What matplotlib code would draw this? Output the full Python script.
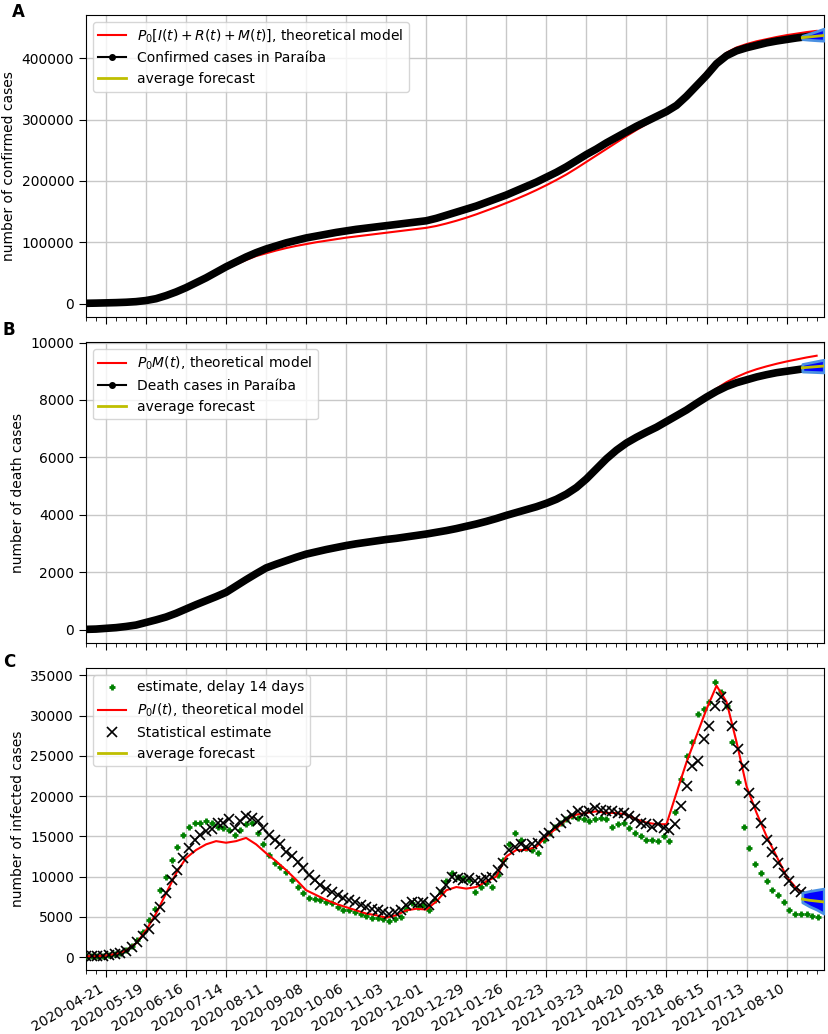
import matplotlib
matplotlib.use('Agg')
import matplotlib.pyplot as plt
import matplotlib.dates as mdates
from matplotlib.lines import Line2D
import numpy as np
import pandas as pd

# weekly readings, first week 2020-04-07
confirmed = [500, 800, 1200, 1600, 2200, 3200, 5000, 8000, 13000, 19000,
             26000, 34000, 42000, 51000, 60000, 68000, 76000, 83000, 89000, 94000,
             99000, 103000, 107000, 110000, 113000, 116000, 118500, 121000, 123000, 125000,
             127000, 129000, 131000, 133000, 135000, 139000, 144000, 149000, 154000, 159000,
             165000, 171000, 177000, 184000, 191000, 198000, 206000, 214000, 223000, 233000,
             243000, 252000, 262000, 271000, 280000, 289000, 297000, 305000, 313000, 323000,
             338000, 355000, 372000, 391000, 404000, 412000, 417000, 421000, 425000, 428000,
             430500, 433000, 435000, 437000]
model_confirmed = [500, 800, 1200, 1700, 2400, 3500, 5500, 8500, 13500, 19500,
                   26000, 33500, 41000, 49000, 56500, 64000, 71000, 77500, 82000, 86500,
                   90500, 94000, 97000, 100000, 102500, 105000, 107500, 109500, 111500, 113500,
                   115500, 117500, 119500, 121500, 123500, 126500, 130500, 135000, 140000, 145500,
                   151500, 157500, 164000, 170500, 177500, 185000, 193000, 201500, 210500, 220500,
                   231000, 241500, 252000, 262500, 273000, 283000, 292500, 301500, 311000, 322500,
                   339000, 358000, 378000, 396000, 409000, 417500, 423000, 427500, 431000, 434500,
                   437500, 440000, 442500, 444500]

deaths = [10, 20, 45, 70, 110, 160, 250, 340, 440, 570,
          720, 870, 1010, 1150, 1300, 1520, 1740, 1950, 2150, 2280,
          2400, 2520, 2630, 2710, 2790, 2860, 2930, 2990, 3040, 3090,
          3140, 3180, 3230, 3280, 3330, 3390, 3450, 3520, 3600, 3680,
          3770, 3870, 3980, 4080, 4180, 4280, 4400, 4540, 4720, 4950,
          5250, 5600, 5950, 6250, 6500, 6700, 6880, 7050, 7250, 7450,
          7650, 7880, 8100, 8300, 8470, 8600, 8700, 8800, 8880, 8950,
          9000, 9050, 9100, 9140]
model_deaths = [10, 20, 45, 75, 120, 175, 270, 370, 480, 610,
                760, 900, 1040, 1170, 1310, 1520, 1730, 1930, 2120, 2260,
                2380, 2500, 2610, 2700, 2780, 2850, 2920, 2980, 3030, 3080,
                3120, 3160, 3200, 3250, 3300, 3360, 3420, 3500, 3580, 3670,
                3760, 3860, 3970, 4070, 4170, 4270, 4390, 4530, 4710, 4940,
                5240, 5590, 5950, 6250, 6510, 6720, 6900, 7080, 7290, 7510,
                7730, 7950, 8150, 8400, 8620, 8800, 8950, 9070, 9170, 9260,
                9340, 9410, 9480, 9540]

infected_model = [100, 100, 200, 400, 800, 1700, 3300, 5400, 7900, 10400,
                  12300, 13300, 14000, 14400, 14200, 14400, 14800, 14000, 12900, 11900,
                  10800, 9600, 8300, 7700, 7100, 6600, 6200, 5800, 5400, 5200,
                  4900, 5200, 5800, 6000, 5900, 6900, 8300, 8700, 8500, 8700,
                  9400, 10000, 12500, 13300, 13300, 13700, 15000, 16000, 17100, 17700,
                  17900, 18100, 17900, 17900, 17700, 17100, 16700, 16500, 16500, 20400,
                  24200, 27500, 30800, 33700, 31700, 26700, 21200, 17900, 15000, 12500,
                  10000, 8500, 7700, 7300]

# readings every 4 days, first day 2020-04-07
stat_estimate = [100, 100, 100, 150, 200, 350, 500, 750, 1250, 1900,
                 2600, 3500, 4800, 6250, 7900, 9600, 10800, 12300, 13500, 14600,
                 15200, 15600, 15900, 16700, 16700, 17100, 16000, 16900, 17500, 17300,
                 16900, 16000, 15200, 14600, 14000, 13100, 12500, 11800, 11000, 10200,
                 9600, 9000, 8500, 8100, 7700, 7300, 7100, 6900, 6500, 6250,
                 6000, 5800, 5600, 5400, 5600, 5800, 6500, 6900, 6700, 6900,
                 6500, 7300, 8100, 9000, 10000, 9800, 9600, 9800, 9400, 9600,
                 9800, 10000, 10800, 11700, 13300, 13700, 14000, 13700, 14000, 14200,
                 15000, 15400, 16200, 16700, 17100, 17700, 18100, 17900, 18100, 18500,
                 18300, 18100, 18100, 17900, 17900, 17500, 17100, 16700, 16500, 16200,
                 16500, 16000, 15800, 16500, 18700, 21200, 23700, 24400, 27100, 28700,
                 31200, 32300, 31200, 28700, 25800, 23700, 20400, 18700, 16700, 14600,
                 13100, 11700, 10400, 9400, 8500, 8100, 7700, 7300, 6700]
delay_estimate = [100, 100, 100, 150, 200, 350, 550, 850, 1400, 2100,
                  3100, 4600, 6000, 8300, 10000, 12100, 13700, 15200, 16200, 16700,
                  16700, 16900, 16700, 16200, 16000, 15800, 15200, 15800, 16500, 16700,
                  15400, 14000, 12700, 11700, 11200, 10600, 9600, 8700, 7900, 7300,
                  7200, 7100, 6900, 6700, 6250, 5900, 5800, 5600, 5300, 5100,
                  4900, 4800, 4700, 4500, 4700, 5000, 6000, 6700, 6250, 6500,
                  5800, 7100, 8100, 9400, 10400, 10000, 9800, 9600, 8100, 8700,
                  9200, 8700, 10200, 12100, 14000, 15400, 14600, 13500, 13300, 12900,
                  14600, 15400, 16200, 16700, 17100, 17500, 17300, 17100, 16900, 17100,
                  17300, 17100, 16200, 16500, 16700, 16000, 15400, 15000, 14600, 14600,
                  14400, 15000, 14400, 18000, 22100, 25000, 26700, 30200, 30800, 31700,
                  34200, 32900, 31200, 26700, 21700, 16200, 13500, 11500, 10400, 9400,
                  8300, 7700, 6900, 5800, 5400, 5300, 5400, 5100, 5000]

# forecast band (2021-08-21 .. 2021-09-05, every 5 days)
fc_conf_mean = [433500, 434600, 435800, 437000]
fc_conf_low = [431000, 430000, 429200, 428500]
fc_conf_high = [436500, 440000, 444000, 448000]
fc_death_mean = [9120, 9140, 9160, 9180]
fc_death_low = [8990, 8980, 8970, 8960]
fc_death_high = [9250, 9300, 9350, 9400]
fc_inf_mean = [7200, 7050, 6950, 6850]
fc_inf_low = [6800, 6300, 5900, 5400]
fc_inf_high = [8000, 8200, 8350, 8500]

weeks = pd.date_range('2020-04-07', periods=len(confirmed), freq='7D')
days4 = pd.date_range('2020-04-07', periods=len(stat_estimate), freq='4D')
fc_days = pd.date_range('2021-08-21', periods=len(fc_conf_mean), freq='5D')

fig = plt.figure(figsize=(8.29, 10.34), dpi=100)
ax1 = fig.add_axes([0.1037, 0.6934, 0.890, 0.2921])
ax2 = fig.add_axes([0.1037, 0.3781, 0.890, 0.2911])
ax3 = fig.add_axes([0.1037, 0.0619, 0.890, 0.2921])


def forecast(ax, low, mean, high):
    ax.fill_between(fc_days, low, high, color='blue', edgecolor='#4a90e2', lw=2, zorder=5)
    ax.plot(fc_days, mean, color='y', lw=2, zorder=6)


# A
ax1.plot(weeks, model_confirmed, color='red', lw=1.5, zorder=3)
ax1.plot(weeks, confirmed, color='black', lw=5.5, solid_capstyle='round', zorder=4)
forecast(ax1, fc_conf_low, fc_conf_mean, fc_conf_high)
h1 = [Line2D([], [], color='red', lw=1.5),
      Line2D([], [], color='black', lw=1.5, marker='.', ms=8),
      Line2D([], [], color='y', lw=2)]
ax1.legend(h1, [r'$P_0[I(t)+R(t)+M(t)]$, theoretical model',
                'Confirmed cases in Paraíba', 'average forecast'],
           loc='upper left', fontsize=10)
ax1.set_ylabel('number of confirmed cases', fontsize=10)

# B
ax2.plot(weeks, model_deaths, color='red', lw=1.5, zorder=3)
ax2.plot(weeks, deaths, color='black', lw=5.5, solid_capstyle='round', zorder=4)
forecast(ax2, fc_death_low, fc_death_mean, fc_death_high)
h2 = [Line2D([], [], color='red', lw=1.5),
      Line2D([], [], color='black', lw=1.5, marker='.', ms=8),
      Line2D([], [], color='y', lw=2)]
ax2.legend(h2, [r'$P_0M(t)$, theoretical model', 'Death cases in Paraíba', 'average forecast'],
           loc='upper left', fontsize=10)
ax2.set_ylabel('number of death cases', fontsize=10)

# C
ax3.plot(days4, delay_estimate, linestyle='none', marker='+', ms=4, mew=2,
         color='green', zorder=3, label='estimate, delay 14 days')
ax3.plot(weeks, infected_model, color='red', lw=1.5, zorder=4,
         label=r'$P_0I(t)$, theoretical model')
ax3.plot(days4, stat_estimate, linestyle='none', marker='x', ms=6.5, mew=1.2,
         color='black', zorder=4, label='Statistical estimate')
forecast(ax3, fc_inf_low, fc_inf_mean, fc_inf_high)
ax3.plot([], [], color='y', lw=2, label='average forecast')
ax3.legend(loc='upper left', fontsize=10)
ax3.set_ylabel('number of infected cases', fontsize=10)

major = pd.date_range('2020-04-21', '2021-08-10', freq='28D')
minor = pd.date_range('2020-04-07', '2021-09-05', freq='7D')
for ax in (ax1, ax2, ax3):
    ax.set_xlim(pd.Timestamp('2020-04-07'), pd.Timestamp('2021-09-05'))
    ax.set_xticks(major)
    ax.set_xticks(minor, minor=True)
    ax.xaxis.set_major_formatter(mdates.DateFormatter('%Y-%m-%d'))
    ax.grid(True, color='#c8c8c8', lw=1)
    ax.set_axisbelow(True)
    ax.tick_params(labelsize=10, length=5)
    ax.tick_params(which='minor', length=3)
ax1.tick_params(labelbottom=False)
ax2.tick_params(labelbottom=False)
plt.setp(ax3.get_xticklabels(), rotation=30, ha='right')

fig.text(12 / 829, 1 - 17 / 1034, 'A', fontsize=12, fontweight='bold')
fig.text(3 / 829, 1 - 335 / 1034, 'B', fontsize=12, fontweight='bold')
fig.text(3 / 829, 1 - 667 / 1034, 'C', fontsize=12, fontweight='bold')

fig.savefig('out.png', dpi=100)
